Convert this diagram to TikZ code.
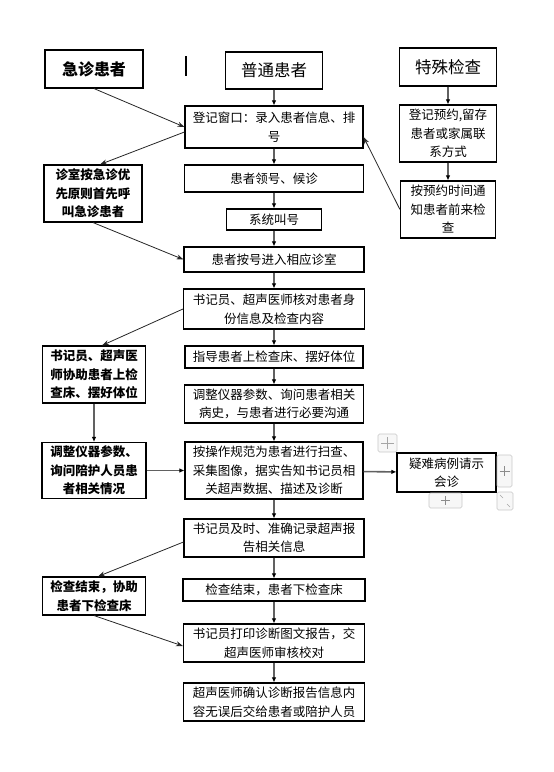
\documentclass[tikz,border=0pt]{standalone}
\usepackage{fontspec}
\setmainfont{Noto Sans CJK SC}
\usepackage{tikz}
\usetikzlibrary{arrows.meta,positioning}

\begin{document}
\begin{tikzpicture}[x=1pt,y=-1pt,>=Latex,
  box/.style={draw,line width=1.1pt,align=center,inner sep=0pt,font=\fontsize{12.5}{18.5}\selectfont},
  boldbox/.style={box,font=\fontsize{12.5}{18.5}\selectfont\bfseries},
  headbox/.style={draw,line width=1.1pt,align=center,inner sep=0pt,font=\fontsize{16.5}{20}\selectfont},
  flow/.style={draw=black!62,line width=1.6pt,-{Latex[length=5pt,width=4.5pt,color=black]}},
  link/.style={draw=black!85,line width=0.8pt,-{Stealth[length=7pt,width=5pt]}},
  uibox/.style={draw=black!22,fill=black!3,line width=0.6pt,rounded corners=1.5pt}]
  \useasboundingbox (0,0) rectangle (554,772);

  % top row
  \node[headbox,font=\fontsize{16}{20}\selectfont\bfseries,minimum width=98pt,minimum height=38pt] (emg) at (94,69) {急诊患者};
  \node[headbox,minimum width=97pt,minimum height=37pt] (normal) at (274,70.5) {普通患者};
  \node[headbox,minimum width=97pt,minimum height=38pt] (special) at (448,67) {特殊检查};
  \draw[line width=2pt] (186,56) -- (186,76);

  % main column
  \node[box,minimum width=178pt,minimum height=42pt] (reg) at (274,127) {登记窗口：录入患者信息、排\\号};
  \node[box,minimum width=179pt,minimum height=27pt] (queue) at (274,178.5) {患者领号、候诊};
  \node[box,minimum width=95pt,minimum height=21pt] (call) at (274,219.5) {系统叫号};
  \node[box,minimum width=180pt,minimum height=25pt] (enter) at (274,259.5) {患者按号进入相应诊室};
  \node[box,minimum width=181pt,minimum height=40pt] (check) at (274,309) {书记员、超声医师核对患者身\\份信息及检查内容};
  \node[box,minimum width=178pt,minimum height=22pt] (pose) at (274,357) {指导患者上检查床、摆好体位};
  \node[box,minimum width=179pt,minimum height=38pt] (adjust) at (274,404) {调整仪器参数、询问患者相关\\病史，与患者进行必要沟通};
  \node[box,minimum width=178pt,minimum height=57pt] (scan) at (274,470.5) {按操作规范为患者进行扫查、\\采集图像，据实告知书记员相\\关超声数据、描述及诊断};
  \node[box,minimum width=180pt,minimum height=38pt] (record) at (274,538) {书记员及时、准确记录超声报\\告相关信息};
  \node[box,minimum width=182pt,minimum height=22pt] (finish) at (274,590) {检查结束，患者下检查床};
  \node[box,minimum width=181pt,minimum height=38pt] (print) at (274,643) {书记员打印诊断图文报告，交\\超声医师审核校对};
  \node[box,minimum width=181pt,minimum height=38pt] (confirm) at (274,702) {超声医师确认诊断报告信息内\\容无误后交给患者或陪护人员};

  % emergency column
  \node[boldbox,minimum width=98pt,minimum height=57pt] (prio) at (93,193.5) {诊室按急诊优\\先原则首先呼\\叫急诊患者};
  \node[boldbox,minimum width=103pt,minimum height=57pt] (help) at (94,374.5) {书记员、超声医\\师协助患者上检\\查床、摆好体位};
  \node[boldbox,minimum width=104pt,minimum height=56pt] (ask) at (94,470.5) {调整仪器参数、\\询问陪护人员患\\者相关情况};
  \node[boldbox,minimum width=103pt,minimum height=38pt] (leave) at (94,596) {检查结束，协助\\患者下检查床};

  % special column
  \node[box,minimum width=97pt,minimum height=57pt] (book) at (448,133.5) {登记预约,留存\\患者或家属联\\系方式};
  \node[box,minimum width=95pt,minimum height=57pt] (notify) at (448,209.5) {按预约时间通\\知患者前来检\\查};
  \node[box,minimum width=99pt,minimum height=39pt] (consult) at (446.5,472.5) {疑难病例请示\\会诊};

  % editor handles round the consult box
  \draw[uibox] (378,434) rectangle (397,452);
  \draw[black!35,line width=0.6pt] (387.5,437) -- (387.5,449) (381,443) -- (394,443);
  \draw[uibox] (497,455) rectangle (512,487);
  \draw[black!45,line width=0.6pt] (504.5,466) -- (504.5,476) (499.5,471) -- (509.5,471);
  \draw[uibox] (429,493) rectangle (462,508);
  \draw[black!45,line width=0.6pt] (445.5,496) -- (445.5,505) (441,500.5) -- (450,500.5);
  \draw[uibox] (497,492) rectangle (513,510);
  \draw[black!35,line width=0.5pt] (500,495) -- (503,498) (507,504) -- (510,507);

  % main flow
  \draw[flow] (normal) -- (reg);
  \draw[flow] (reg) -- (queue);
  \draw[flow] (queue) -- (call);
  \draw[flow] (call) -- (enter);
  \draw[flow] (enter) -- (check);
  \draw[flow] (check) -- (pose);
  \draw[flow] (pose) -- (adjust);
  \draw[flow] (adjust) -- (scan);
  \draw[flow] (scan) -- (record);
  \draw[flow] (record) -- (finish);
  \draw[flow] (finish) -- (print);
  \draw[flow] (print) -- (confirm);
  \draw[flow] (special) -- (book);
  \draw[flow] (book) -- (notify);
  \draw[flow] (help) -- (ask);
  \draw[flow] (ask) -- (scan);
  \draw[flow] (scan) -- (consult);

  % side links
  \draw[link] (emg.south) -- (reg.west);
  \draw[link] ([yshift=-5pt]reg.west) -- ([xshift=7pt]prio.north);
  \draw[link] (prio.south) -- (enter.west);
  \draw[link] (notify.west) -- ([yshift=-10pt]reg.east);
  \draw[link] (check.west) -- ([xshift=8pt]help.north);
  \draw[link] ([yshift=-4pt]record.west) -- ([xshift=4pt]leave.north);
  \draw[link] (leave.south) -- ([yshift=-3pt]print.west);
\end{tikzpicture}
\end{document}
